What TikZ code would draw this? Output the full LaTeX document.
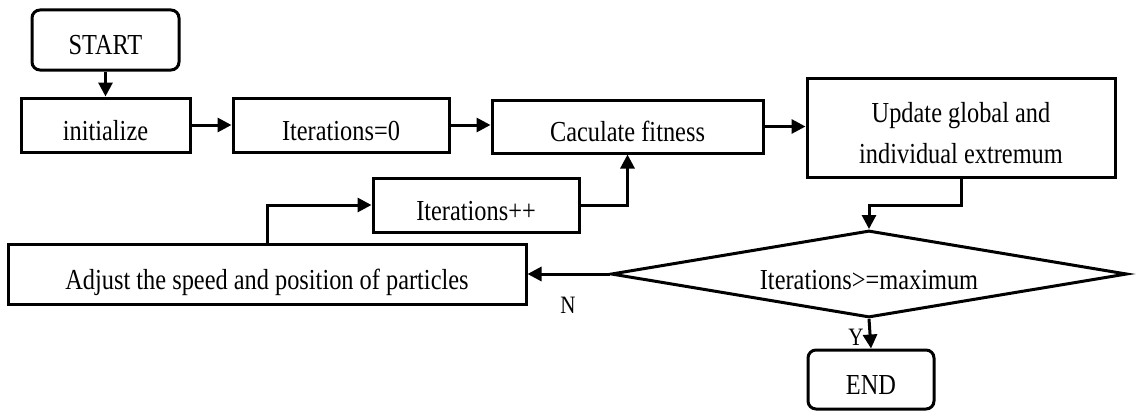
\documentclass[tikz,border=0pt]{standalone}
\usepackage{fontspec}
\setmainfont{Liberation Serif}[FakeStretch=0.84]
\usetikzlibrary{arrows.meta,shapes.geometric}
\begin{document}
\begin{tikzpicture}[x=1pt,y=-1pt,
  box/.style={draw, line width=3pt, rectangle, inner sep=0pt,
    font=\fontsize{29}{34}\selectfont, text height=30pt, text depth=0pt},
  term/.style={box, rounded corners=8pt},
  decbox/.style={box, diamond, aspect=6},
  arr/.style={line width=3pt, -{Triangle[length=14pt,width=14pt]}},
  lbl/.style={inner sep=0pt, font=\fontsize{25}{29}\selectfont}]
\path[use as bounding box, fill=white] (0,0) rectangle (1137,412);
\node[term, minimum width=147pt, minimum height=60pt] (start) at (105.5,40) {START};
\node[box, minimum width=169pt, minimum height=54pt] (init) at (105.5,125) {initialize};
\node[box, minimum width=216pt, minimum height=54pt] (it0) at (341,125) {Iterations=0};
\node[box, minimum width=271pt, minimum height=53pt] (fit) at (627.5,126.5) {Caculate fitness};
\node[box, minimum width=308pt, minimum height=99pt, text height=20pt, text depth=31pt,
  font=\fontsize{29}{41}\selectfont] (upd) at (961,127.5)
  {\parbox[t]{300pt}{\centering Update global and\\individual extremum}};
\node[decbox, minimum width=516pt, minimum height=87pt] (dec) at (869,274) {Iterations>=maximum};
\node[term, minimum width=126pt, minimum height=59pt] (end) at (871,379.5) {END};
\node[box, minimum width=206pt, minimum height=54pt] (itpp) at (476,205) {Iterations++};
\node[box, minimum width=518pt, minimum height=60pt] (adj) at (267,274) {Adjust the speed and position of particles};
\node[lbl] (lblN) at (568,305.5) {N};
\node[lbl] (lblY) at (856,337.5) {Y};

\draw[arr] (start.south) -- (init.north);
\draw[arr] (init.east) -- (it0.west);
\draw[arr] (it0.east) -- (it0.east -| fit.west);
\draw[arr] (fit.east) -- (fit.east -| upd.west);
\draw[arr] (upd.south) -- ++(0,27) -| (dec.north);
\draw[arr] (dec.west) -- (adj.east);
\draw[arr] (dec.south) -- (end.north);
\draw[arr] (adj.north) |- (itpp.west);
\draw[arr] (itpp.east) -| (fit.south);
\end{tikzpicture}
\end{document}
